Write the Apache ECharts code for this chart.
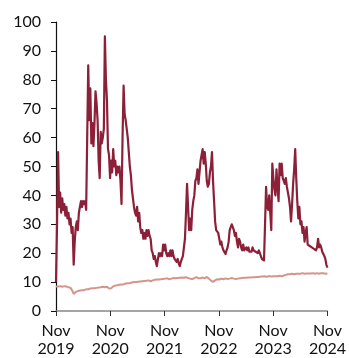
<!DOCTYPE html>
<html><head><meta charset="utf-8">
<script src="https://cdn.jsdelivr.net/npm/echarts@6/dist/echarts.min.js"></script>
<style>html,body{margin:0;padding:0;background:#fff}#c{width:349px;height:358px}</style>
</head><body><div id="c"></div>
<script>
// weekly observations, Nov 2019 .. Nov 2024 (week index 0..261)
const xTickLabels = ['Nov\n2019','Nov\n2020','Nov\n2021','Nov\n2022','Nov\n2023','Nov\n2024'];
const yTicks = [0,10,20,30,40,50,60,70,80,90,100];
const darkSeries = [
10,30,55,36,41,34,39,35,37,33,36,32,34,30,32,27,29,16,24,29,
31,28,34,36,38,36,38,37,38,35,60,85,66,77,58,65,57,65,76,72,
66,52,46,62,58,60,63,95,80,73,56,54,46,52,48,56,50,52,47,50,
48,50,45,37,60,78,68,66,63,60,55,50,47,42,39,36,34,33,36,31,
34,29,27,28,25,27,25,28,26,28,26,25,21,20,18,19,17,15.5,18,20,
19,20,19,23,21,23,20,19,20,19,21,19,21,19,18,18,17,18,16.5,15.5,
17,18,19,22,25,34,44,36,28,32,28,35,38,40,45,46,49,44,48,52,
54,56,51,55,51,45,43,44,48,50,55,45,38,31,28,28,27,25,23,24,
22,21,20.5,19.7,21,22,24,28,29,30,29,28,26,27,24,22,25,24,22,21,
23,21,20.5,22,21,22,20.5,21,20.5,22,21,21,20.5,21,20,21,20,19,18,18.5,
17.5,30,43,36,35,40,34,28,51,46,42,40,49,43,38,51,47,51,46,45,
44,46,43,41,39,36,31,37,44,49,56,46,38,32,36,30,31,27,29,24,
27,29,23,23.5,22.5,23,22,22.5,21.5,22,21,22,25,22,23,22,20.5,21,19,18,
16,15
];
const lightSeries = [
8.5,8.4,8.5,8.4,8.6,8.5,8.4,8.5,8.6,8.5,8.5,8.3,8.2,8.1,8.0,7.5,6.8,
5.9,6.2,6.6,6.8,6.9,7.0,
7.1,7.0,7.2,7.3,7.2,7.4,7.5,
7.6,7.5,7.7,7.8,7.7,7.9,8.0,7.9,8.1,8.0,8.2,8.1,8.3,8.2,8.3,8.4,8.3,8.2,8.3,8.4,8.3,
7.8,7.6,7.9,
8.3,8.5,8.6,8.8,8.7,8.9,9.0,9.1,9.0,9.2,9.3,9.2,9.4,9.5,9.4,9.6,9.7,
9.6,9.8,9.9,9.8,10.0,10.1,10.0,10.2,10.1,10.3,10.2,10.4,10.3,10.5,10.4,10.6,10.5,10.7,10.6,10.4,
10.3,10.5,10.6,10.7,10.8,10.7,10.9,11.0,10.9,11.1,11.0,11.2,11.1,11.3,11.2,11.1,11.3,11.2,11.0,11.1,
11.2,11.3,11.4,11.2,11.3,11.5,11.4,11.6,11.5,11.4,11.6,11.7,11.5,11.6,11.7,11.6,11.4,11.3,11.2,11.1,
11.0,11.2,11.4,11.6,11.7,11.5,11.3,11.1,11.3,11.5,11.6,11.4,11.3,11.6,11.8,11.5,11.2,10.8,10.5,10.2,
10.1,10.3,10.6,10.8,11.0,11.1,10.9,11.0,11.2,11.1,11.0,11.2,11.3,11.2,11.1,11.0,11.2,11.3,11.4,11.3,
11.2,11.0,11.1,11.3,11.2,11.4,11.3,11.5,11.4,11.3,11.5,11.6,11.5,11.4,11.6,11.7,11.6,11.5,11.7,11.8,
11.7,11.6,11.8,11.9,11.8,11.7,11.9,12.0,11.9,11.8,12.0,11.9,11.8,12.0,12.1,12.0,11.9,12.1,12.0,11.9,
12.0,12.1,12.0,12.1,12.2,12.1,12.0,12.2,12.3,12.4,12.5,12.6,12.7,12.8,12.7,12.8,12.9,12.8,12.7,12.8,
12.9,13.0,12.9,12.8,12.9,13.0,13.1,13.0,12.9,12.8,13.0,13.1,13.0,12.9,13.0,13.2,13.1,13.0,12.9,13.0,
13.1,13.0,12.9,13.0,13.1,13.0,13.1,13.0,12.9,13.0,13.0
];
const weeksPerYear = 261 / 5;
const FONT = 'Lato';
const chart = echarts.init(document.getElementById('c'), null, {renderer:'canvas'});
const toPairs = arr => arr.map((v,i)=>[i,v]);
chart.setOption({
  animation:false,
  backgroundColor:'#fff',
  grid:{left:56,right:19,top:22,bottom:46,containLabel:false},
  xAxis:{
    type:'value', min:0, max:261, interval:weeksPerYear,
    splitLine:{show:false},
    axisLine:{show:true,lineStyle:{color:'#888',width:1.5}},
    axisTick:{show:true,length:5,lineStyle:{color:'#333',width:1}},
    axisLabel:{
      color:'#111', fontFamily:FONT, fontSize:16, lineHeight:18, margin:11,
      showMinLabel:true, showMaxLabel:true,
      formatter:v=>xTickLabels[Math.round(v/weeksPerYear)] || ''
    }
  },
  yAxis:{
    type:'value', min:0, max:100, interval:10,
    splitLine:{show:false},
    axisLine:{show:true,lineStyle:{color:'#111',width:1.2}},
    axisTick:{show:true,length:5,lineStyle:{color:'#111',width:1}},
    axisLabel:{color:'#111',fontFamily:FONT,fontSize:16,margin:15,
      formatter:v=>yTicks.includes(v)?String(v):''}
  },
  series:[
    {type:'line',data:toPairs(lightSeries),showSymbol:false,symbol:'none',
     lineStyle:{color:'#d4958b',width:2},z:2},
    {type:'line',data:toPairs(darkSeries),showSymbol:false,symbol:'none',
     lineStyle:{color:'#8b2038',width:2.2,join:'round'},z:3}
  ]
});
</script></body></html>
